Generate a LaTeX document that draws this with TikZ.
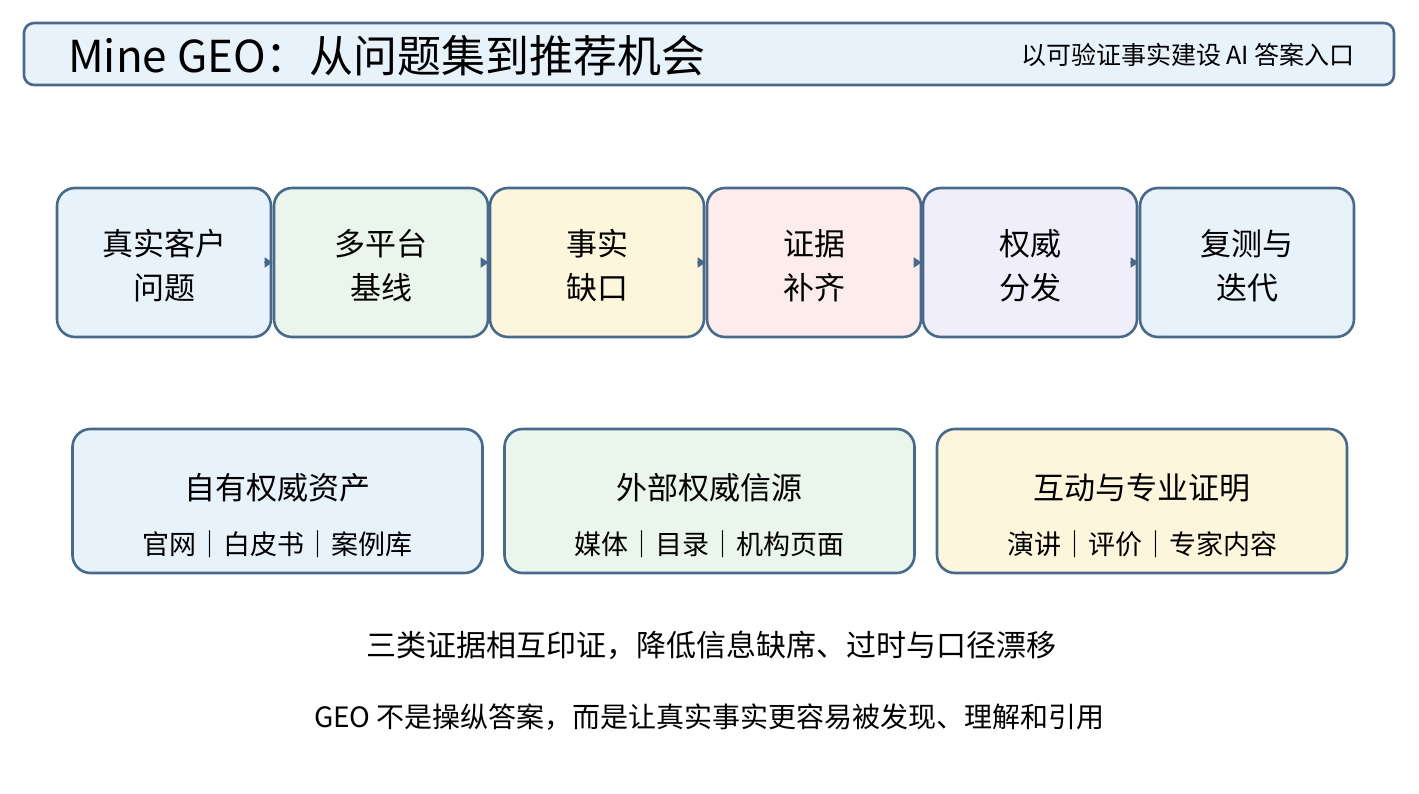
\documentclass[tikz,border=0pt]{standalone}
\usepackage{fontspec}
\setmainfont{Noto Sans CJK SC}
\usetikzlibrary{arrows.meta}
\definecolor{bordc}{HTML}{48698A}
\definecolor{cblue}{HTML}{E8F2FB}
\definecolor{cgreen}{HTML}{EAF5EC}
\definecolor{cyellow}{HTML}{FDF6DC}
\definecolor{cpink}{HTML}{FCECEC}
\definecolor{cviolet}{HTML}{F1EEFB}
\tikzset{
  titlebox/.style={draw=bordc, line width=2.6pt, rounded corners=10pt, fill=cblue},
  procbox/.style={draw=bordc, line width=2.6pt, rounded corners=18pt, minimum width=214pt, minimum height=149pt, inner sep=0pt, align=center, font=\fontsize{31}{44}\selectfont},
  groupbox/.style={draw=bordc, line width=2.6pt, rounded corners=18pt, minimum width=410pt, minimum height=144pt, inner sep=0pt},
  flow/.style={draw=bordc, line width=1.5pt, -{Triangle[length=8pt,width=10pt]}},
  plain/.style={inner sep=0pt, anchor=center}
}
\begin{document}
\begin{tikzpicture}[x=1pt,y=-1pt]
\useasboundingbox (0,0) rectangle (1419,794);
% title
\draw[titlebox] (24,23) rectangle (1394,85);
\node[plain, anchor=west, font=\fontsize{44}{50}\selectfont] (title) at (68,56) {Mine GEO：从问题集到推荐机会};
\node[plain, anchor=east, font=\fontsize{25}{30}\selectfont] (subtitle) at (1355,55) {以可验证事实建设 AI 答案入口};
% process
\node[procbox, fill=cblue]   (p1) at (164,262.5)   {};
\node[procbox, fill=cgreen]  (p2) at (381,262.5)   {};
\node[procbox, fill=cyellow] (p3) at (597,262.5)   {};
\node[procbox, fill=cpink]   (p4) at (814,262.5)   {};
\node[procbox, fill=cviolet] (p5) at (1030,262.5)  {};
\node[procbox, fill=cblue]   (p6) at (1247,262.5)  {};
\foreach \n/\t in {p1/{真实客户\\问题},p2/{多平台\\基线},p3/{事实\\缺口},p4/{证据\\补齐},p5/{权威\\分发},p6/{复测与\\迭代}}
  \node[plain, align=center, font=\fontsize{31}{44}\selectfont] (\n t) at ([yshift=-3pt]\n.center) {\t};
\foreach \a/\b in {p1/p2,p2/p3,p3/p4,p4/p5,p5/p6}
  \draw[flow] ([xshift=-8pt]\a.east) -- (\b.west);
% groups
\node[groupbox, fill=cblue]   (g1) at (277.5,501) {};
\node[groupbox, fill=cgreen]  (g2) at (709.5,501) {};
\node[groupbox, fill=cyellow] (g3) at (1142,501) {};
\node[plain, font=\fontsize{31}{36}\selectfont] (g1t) at (277.5,488) {自有权威资产};
\node[plain, font=\fontsize{27}{30}\selectfont] (g1s) at (277.5,544) {官网｜白皮书｜案例库};
\node[plain, font=\fontsize{31}{36}\selectfont] (g2t) at (709.5,488) {外部权威信源};
\node[plain, font=\fontsize{27}{30}\selectfont] (g2s) at (709.5,544) {媒体｜目录｜机构页面};
\node[plain, font=\fontsize{31}{36}\selectfont] (g3t) at (1142,488) {互动与专业证明};
\node[plain, font=\fontsize{27}{30}\selectfont] (g3s) at (1142,544) {演讲｜评价｜专家内容};
% notes
\node[plain, font=\fontsize{30}{36}\selectfont] (n1) at (711,645) {三类证据相互印证，降低信息缺席、过时与口径漂移};
\node[plain, font=\fontsize{28}{34}\selectfont] (n2) at (709.5,717) {GEO 不是操纵答案，而是让真实事实更容易被发现、理解和引用};
\end{tikzpicture}
\end{document}
